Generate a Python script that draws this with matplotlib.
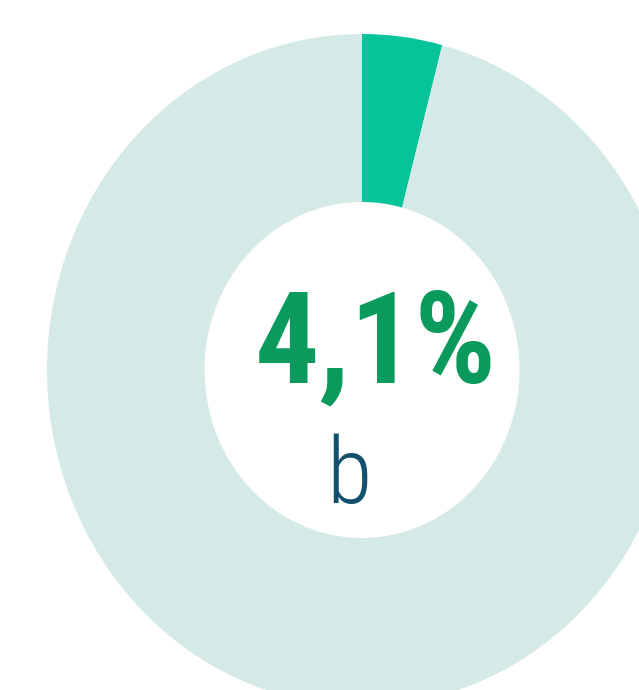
import matplotlib
matplotlib.use("Agg")
import matplotlib.pyplot as plt
from matplotlib import font_manager

# data
share = [4.1, 95.9]
labels = ["b", "rest"]
value_text = "4,1%"
sub_text = "b"

colors = ["#06C49A", "#D5EAE7"]

fonts = font_manager.fontManager.ttflist
names = {f.name for f in fonts}
num_font, num_stretch, num_size = "Roboto", "normal", 77
for cand in ["Roboto Condensed", "Liberation Sans Narrow", "Open Sans Condensed"]:
    if cand in names:
        num_font, num_size = cand, 92
        break
else:
    if any(f.name == "DejaVu Sans" and f.stretch == "condensed" for f in fonts):
        num_font, num_stretch, num_size = "DejaVu Sans", "condensed", 72

fig = plt.figure(figsize=(6.39, 6.90), dpi=100)
ax = fig.add_axes([0, 0, 1, 1])
ax.pie(share, colors=colors, startangle=90, counterclock=False,
       radius=1.0, wedgeprops=dict(width=0.5, linewidth=0))
ax.set_aspect("auto")
# donut center at pixel (362, 370), radii 315 x 336 px
ax.set_xlim(-362 / 315, (639 - 362) / 315)
ax.set_ylim(-(690 - 370) / 336, 370 / 336)
ax.axis("off")

fig.text(376 / 639, 1 - 382 / 690, value_text, ha="center", va="baseline",
         fontsize=num_size, fontweight="bold", fontstretch=num_stretch,
         color="#0A9B5C", family=num_font)
fig.text(349 / 639, 1 - 503 / 690, sub_text, ha="center", va="baseline",
         fontsize=67, fontweight="light", color="#13506E", family=num_font)

fig.savefig("out.png", dpi=100, facecolor="white")
